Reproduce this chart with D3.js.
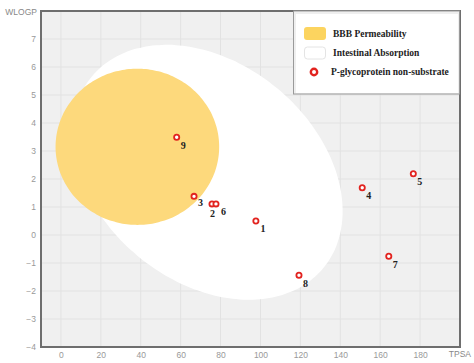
<!DOCTYPE html>
<html><head><meta charset="utf-8">
<script src="https://cdn.jsdelivr.net/npm/d3@7"></script>
<style>body{margin:0;background:#fff}svg{display:block}</style>
</head><body>
<svg id="chart" width="474" height="363"></svg>
<script>
// ---- data ----
const compoundIds = ["1","2","3","4","5","6","7","8","9"];
const tpsaValues  = [97.7, 75.7, 66.7, 151.0, 176.6, 77.7, 164.3, 119.3, 58.0];
const wlogpValues = [0.50, 1.11, 1.38, 1.69, 2.19, 1.11, -0.76, -1.44, 3.49];
const xTicks = [0, 20, 40, 60, 80, 100, 120, 140, 160, 180];
const yTicks = [-4, -3, -2, -1, 0, 1, 2, 3, 4, 5, 6, 7];
const xDomain = [-10, 200];
const yDomain = [-4, 8];
// ellipses (data units): centre, conjugate semi-axis vectors
const yolkCenter = [38.3, 3.15];
const yolkAxisU = [41.0, 0];
const yolkAxisV = [0, 2.79];
const whiteCenter = [73.5, 2.24];
const whiteAxisU = [57.8, -3.44];
const whiteAxisV = [-35.2, -2.98];
const legendLabels = ["BBB Permeability", "Intestinal Absorption", "P-glycoprotein non-substrate"];
const axisTitles = {x: "TPSA", y: "WLOGP"};

// ---- drawing ----
const svg = d3.select("#chart");
const x = d3.scaleLinear().domain(xDomain).range([41, 460]);
const y = d3.scaleLinear().domain(yDomain).range([347, 11]);
const sans = "Liberation Sans, Arial, sans-serif";
const serif = "Liberation Serif, Times New Roman, serif";

svg.append("rect").attr("x", x(xDomain[0])).attr("y", y(yDomain[1]))
  .attr("width", x(xDomain[1]) - x(xDomain[0])).attr("height", y(yDomain[0]) - y(yDomain[1]))
  .attr("fill", "#f0f0f0");

const grid = svg.append("g").attr("stroke", "#e2e2e2").attr("stroke-width", 1);
xTicks.forEach(t => grid.append("line").attr("x1", x(t)).attr("x2", x(t))
  .attr("y1", y(yDomain[0])).attr("y2", y(yDomain[1])));
yTicks.filter(t => t > yDomain[0]).forEach(t => grid.append("line").attr("y1", y(t)).attr("y2", y(t))
  .attr("x1", x(xDomain[0])).attr("x2", x(xDomain[1])));

function ellipsePath(c, u, v) {
  const pts = d3.range(0, 360, 3).map(a => {
    const t = a * Math.PI / 180;
    return [x(c[0] + Math.cos(t) * u[0] + Math.sin(t) * v[0]),
            y(c[1] + Math.cos(t) * u[1] + Math.sin(t) * v[1])];
  });
  return d3.line().curve(d3.curveCardinalClosed)(pts);
}
svg.append("path").attr("d", ellipsePath(whiteCenter, whiteAxisU, whiteAxisV)).attr("fill", "#ffffff");
svg.append("path").attr("d", ellipsePath(yolkCenter, yolkAxisU, yolkAxisV)).attr("fill", "#fdd97c");

// border
svg.append("rect").attr("x", x(xDomain[0])).attr("y", y(yDomain[1]))
  .attr("width", x(xDomain[1]) - x(xDomain[0])).attr("height", y(yDomain[0]) - y(yDomain[1]))
  .attr("fill", "none").attr("stroke", "#6e6e6e").attr("stroke-width", 2);

// axes
const xAxis = d3.axisBottom(x).tickValues(xTicks).tickSize(0).tickPadding(5);
const gx = svg.append("g").attr("transform", `translate(0,${y(yDomain[0])})`).call(xAxis);
const yAxis = d3.axisLeft(y).tickValues(yTicks).tickSize(0).tickPadding(5);
const gy = svg.append("g").attr("transform", `translate(${x(xDomain[0])},0)`).call(yAxis);
[gx, gy].forEach(g => {
  g.select(".domain").remove();
  g.selectAll("text").attr("fill", "#999").style("font-family", sans).style("font-size", "8.5px");
});
svg.append("text").text(axisTitles.y).attr("x", 37).attr("y", 15).attr("text-anchor", "end")
  .attr("fill", "#888").style("font-family", sans).style("font-size", "8.5px");
svg.append("text").text(axisTitles.x).attr("x", 471).attr("y", 357).attr("text-anchor", "end")
  .attr("fill", "#888").style("font-family", sans).style("font-size", "8.5px");

// points
const pts = compoundIds.map((id, i) => ({id, tpsa: tpsaValues[i], wlogp: wlogpValues[i]}));
svg.append("g").selectAll("circle").data(pts).join("circle")
  .attr("cx", d => x(d.tpsa)).attr("cy", d => y(d.wlogp)).attr("r", 2.6)
  .attr("fill", "#fff").attr("stroke", "#e2231f").attr("stroke-width", 1.8);
// label placement: default below-right; nudge overlapping neighbours apart
const nudge = {"2": [-6, 1.5], "6": [1, -0.5], "3": [0, -1.5], "1": [0.5, -1]};
svg.append("g").selectAll("text").data(pts).join("text")
  .attr("x", d => x(d.tpsa) + 4 + (nudge[d.id] ? nudge[d.id][0] : 0))
  .attr("y", d => y(d.wlogp) + 11.5 + (nudge[d.id] ? nudge[d.id][1] : 0)).text(d => d.id)
  .attr("fill", "#222").style("font-family", serif)
  .style("font-size", "10px").style("font-weight", "bold");

// legend
const lg = svg.append("g");
lg.append("rect").attr("x", 293.5).attr("y", 11).attr("width", 166).attr("height", 83)
  .attr("fill", "#efefef").attr("stroke", "#9a9a9a").attr("stroke-width", 1);
lg.append("rect").attr("x", 296).attr("y", 14).attr("width", 162).attr("height", 79).attr("fill", "#fff");
lg.append("rect").attr("x", 304).attr("y", 27).attr("width", 22).attr("height", 13).attr("rx", 3)
  .attr("fill", "#fcd45f");
lg.append("rect").attr("x", 304.5).attr("y", 47).attr("width", 21).attr("height", 12).attr("rx", 3)
  .attr("fill", "#fff").attr("stroke", "#e4e4e4");
lg.append("circle").attr("cx", 314).attr("cy", 72).attr("r", 3.2)
  .attr("fill", "#fff").attr("stroke", "#e2231f").attr("stroke-width", 2.4);
const ly = [34, 53, 72], lx = [333, 333, 331];
legendLabels.forEach((t, i) => lg.append("text").text(t).attr("x", lx[i]).attr("y", ly[i]).attr("dy", "0.35em")
  .attr("fill", "#222").style("font-family", serif)
  .style("font-size", "9.5px").style("font-weight", "bold"));
</script>
</body></html>
